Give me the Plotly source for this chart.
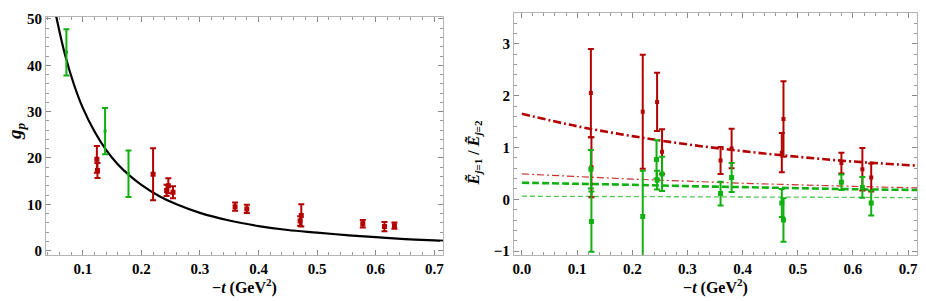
import plotly.graph_objects as go

# ---------------- Left panel: g_p vs -t ----------------
gp_green_t = [0.072, 0.138, 0.178]
gp_green = [42.8, 25.8, 16.6]
gp_green_err = [5.0, 5.0, 5.0]

gp_red_t = [0.124, 0.125, 0.220, 0.243, 0.246, 0.254, 0.360, 0.380,
            0.471, 0.473, 0.578, 0.615, 0.632]
gp_red = [19.7, 17.3, 16.5, 13.0, 14.0, 12.6, 9.5, 9.0, 6.4, 7.6, 5.8, 5.2, 5.4]
gp_red_err = [2.9, 1.6, 5.6, 1.2, 1.6, 1.3, 0.9, 0.9, 1.0, 2.4, 0.8, 1.0, 0.7]

gp_curve_t = [0.05, 0.056, 0.07, 0.085, 0.1, 0.12, 0.14, 0.16, 0.18, 0.2, 0.23,
              0.26, 0.3, 0.35, 0.4, 0.45, 0.5, 0.55, 0.6, 0.65, 0.7, 0.716]
gp_curve = [53.6, 49.7, 42.1, 35.8, 30.8, 25.7, 21.7, 18.6, 16.2, 14.2, 11.8,
            10.0, 8.15, 6.5, 5.31, 4.45, 3.9, 3.35, 2.9, 2.5, 2.2, 2.1]

# ---------------- Right panel: E_{j=1}/E_{j=2} vs -t ----------------
e1_t = [0.125, 0.126, 0.219, 0.245, 0.254, 0.360, 0.380, 0.471, 0.474, 0.579, 0.617, 0.633]
e1 = [2.05, 0.62, 1.69, 1.88, 0.92, 0.75, 0.98, 0.90, 1.55, 0.70, 0.58, 0.42]
e1_err = [0.85, 0.58, 1.10, 0.56, 0.43, 0.26, 0.38, 0.38, 0.73, 0.20, 0.41, 0.27]

e2_t = [0.125, 0.126, 0.219, 0.244, 0.245, 0.254, 0.360, 0.380, 0.471, 0.474, 0.579, 0.617, 0.633]
e2 = [0.58, -0.43, -0.33, 0.77, 0.37, 0.49, 0.11, 0.42, -0.07, -0.40, 0.33, 0.23, -0.07]
e2_err = [0.37, 0.58, 0.88, 0.37, 0.18, 0.33, 0.23, 0.28, 0.27, 0.42, 0.15, 0.20, 0.24]

fit_t = [0.0, 0.1, 0.2, 0.3, 0.4, 0.5, 0.6, 0.716]
fit_e1_thick = [1.65, 1.41, 1.22, 1.06, 0.93, 0.82, 0.73, 0.65]
fit_e1_thin = [0.49, 0.44, 0.39, 0.35, 0.31, 0.28, 0.25, 0.22]
fit_e2_thick = [0.32, 0.30, 0.28, 0.255, 0.235, 0.215, 0.195, 0.18]
fit_e2_thin = [0.06, 0.055, 0.05, 0.047, 0.044, 0.04, 0.037, 0.033]

RED = "#b30000"
GREEN = "#10b010"
LGREEN = "#55c855"
LRED = "#c83030"

fig = go.Figure()

# left
fig.add_trace(go.Scatter(x=gp_curve_t, y=gp_curve, mode="lines", line=dict(color="black", width=2.2, shape="spline"),
                         xaxis="x", yaxis="y", showlegend=False, cliponaxis=True))
fig.add_trace(go.Scatter(x=gp_red_t, y=gp_red, mode="markers",
                         marker=dict(symbol="square", size=5, color=RED),
                         error_y=dict(type="data", array=gp_red_err, color=RED, thickness=2, width=3),
                         xaxis="x", yaxis="y", showlegend=False))
fig.add_trace(go.Scatter(x=gp_green_t, y=gp_green, mode="markers",
                         marker=dict(symbol="square", size=3, color=GREEN),
                         error_y=dict(type="data", array=gp_green_err, color=GREEN, thickness=2, width=3),
                         xaxis="x", yaxis="y", showlegend=False))

# right
fig.add_trace(go.Scatter(x=fit_t, y=fit_e2_thin, mode="lines", line=dict(color=LGREEN, width=1.3, dash="5px,3px"),
                         xaxis="x2", yaxis="y2", showlegend=False))
fig.add_trace(go.Scatter(x=fit_t, y=fit_e1_thin, mode="lines", line=dict(color=LRED, width=1.2, dash="7px,3px,2px,3px", shape="spline"),
                         xaxis="x2", yaxis="y2", showlegend=False))
fig.add_trace(go.Scatter(x=fit_t, y=fit_e2_thick, mode="lines", line=dict(color=GREEN, width=2.6, dash="7px,3px", shape="spline"),
                         xaxis="x2", yaxis="y2", showlegend=False))
fig.add_trace(go.Scatter(x=fit_t, y=fit_e1_thick, mode="lines", line=dict(color=RED, width=2.6, dash="8px,3px,2px,3px", shape="spline"),
                         xaxis="x2", yaxis="y2", showlegend=False))
fig.add_trace(go.Scatter(x=e1_t, y=e1, mode="markers",
                         marker=dict(symbol="square", size=4, color=RED),
                         error_y=dict(type="data", array=e1_err, color=RED, thickness=2, width=3),
                         xaxis="x2", yaxis="y2", showlegend=False))
fig.add_trace(go.Scatter(x=e2_t, y=e2, mode="markers",
                         marker=dict(symbol="square", size=5, color=GREEN),
                         error_y=dict(type="data", array=e2_err, color=GREEN, thickness=2, width=3),
                         xaxis="x2", yaxis="y2", showlegend=False))

tickfont = dict(family="Liberation Serif", size=15, color="black", weight="bold")
frame = dict(showline=True, linecolor="#b4b4b4", linewidth=1, mirror="allticks", ticks="inside",
             ticklen=5, tickcolor="#888888", tickwidth=1, showgrid=False, zeroline=False,
             tickfont=tickfont, ticklabeloverflow="allow")

W, H = 926, 301
fig.update_layout(
    width=W, height=H, margin=dict(l=0, r=0, t=0, b=0),
    paper_bgcolor="white", plot_bgcolor="white",
    xaxis=dict(domain=[45 / W, 443 / W], range=[0.037, 0.715], anchor="y",
               tickvals=[0.1, 0.2, 0.3, 0.4, 0.5, 0.6, 0.7], ticktext=["0.1", "0.2", "0.3", "0.4", "0.5", "0.6", "0.7"],
               minor=dict(dtick=0.02, ticks="inside", ticklen=3, tickcolor="#999999"), **frame),
    yaxis=dict(domain=[43 / H, 289 / H], range=[-1.0, 50.5], anchor="x",
               tickvals=[0, 10, 20, 30, 40, 50],
               minor=dict(dtick=2, ticks="inside", ticklen=3, tickcolor="#999999"), **frame),
    xaxis2=dict(domain=[514 / W, 918 / W], range=[-0.0145, 0.716], anchor="y2",
                tickvals=[0, 0.1, 0.2, 0.3, 0.4, 0.5, 0.6, 0.7],
                ticktext=["0.0", "0.1", "0.2", "0.3", "0.4", "0.5", "0.6", "0.7"],
                minor=dict(dtick=0.02, ticks="inside", ticklen=3, tickcolor="#999999"), **frame),
    yaxis2=dict(domain=[43 / H, 293 / H], range=[-1.08, 3.6], anchor="x2",
                tickvals=[-1, 0, 1, 2, 3], ticktext=["\u22121", "0", "1", "2", "3"],
                minor=dict(dtick=0.2, ticks="inside", ticklen=3, tickcolor="#999999"), **frame),
)

titlefont = dict(family="Liberation Serif", size=16, color="black", weight="bold")
annos = [
    dict(x=244 / W, y=(H - 290) / H, text="\u2212<i>t</i> (GeV<sup>2</sup>)"),
    dict(x=716 / W, y=(H - 290) / H, text="\u2212<i>t</i> (GeV<sup>2</sup>)"),
    dict(x=15 / W, y=(H - 130) / H, text="<i>g<sub>p</sub></i>", textangle=-90, font=dict(family="Liberation Serif", size=19, color="black", weight="bold")),
    dict(x=474 / W, y=(H - 152) / H, text="<i>\u1ebc</i><sub><i>j</i>=1</sub> / <i>\u1ebc</i><sub><i>j</i>=2</sub>", textangle=-90),
]
for a in annos:
    a.setdefault("font", titlefont)
    fig.add_annotation(xref="paper", yref="paper", showarrow=False,
                       xanchor="center", yanchor="middle", **a)

fig.write_html("out.html", config={"displayModeBar": False},
               post_script="document.body.style.margin='0';document.body.style.overflow='hidden';")
